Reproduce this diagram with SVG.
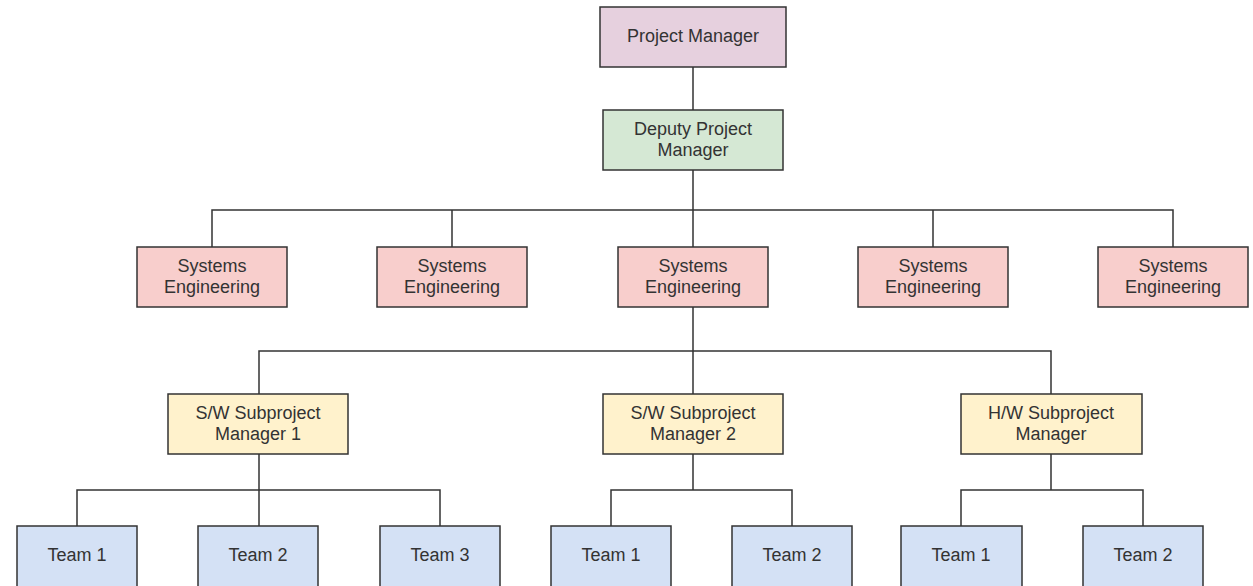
<svg xmlns="http://www.w3.org/2000/svg" width="1253" height="586" viewBox="0 0 1253 586">
<style>
.n{stroke:#333;stroke-width:1.5}
.pm{fill:#e6d0de}.dp{fill:#d5e8d4}.se{fill:#f8cecc}.sb{fill:#fff2cc}.tm{fill:#d4e1f5}
text{font-family:"Liberation Sans",Arial,sans-serif;font-size:18px;fill:#333;text-anchor:middle}
.c{fill:none;stroke:#333;stroke-width:1.5}
</style>
<rect width="1253" height="586" fill="#fff"/>
<g id="connectors" class="c">
<path d="M693 67V110M693 170V247M212 247V210H1173V247M452 210V247M933 210V247"/>
<path d="M693 307V394M259 394V351H1051V394"/>
<path d="M259 454V526M77 526V490H440V526"/>
<path d="M693 454V490M611 526V490H792V526"/>
<path d="M1051 454V490M961 526V490H1143V526"/>
</g>
<g id="pm"><rect class="n pm" x="600" y="7" width="186" height="60"/><text x="693" y="42">Project Manager</text></g>
<g id="dpm"><rect class="n dp" x="603" y="110" width="180" height="60"/><text x="693" y="135">Deputy Project</text><text x="693" y="156">Manager</text></g>
<g id="se1"><rect class="n se" x="137" y="247" width="150" height="60"/><text x="212" y="272">Systems</text><text x="212" y="293">Engineering</text></g>
<g id="se2"><rect class="n se" x="377" y="247" width="150" height="60"/><text x="452" y="272">Systems</text><text x="452" y="293">Engineering</text></g>
<g id="se3"><rect class="n se" x="618" y="247" width="150" height="60"/><text x="693" y="272">Systems</text><text x="693" y="293">Engineering</text></g>
<g id="se4"><rect class="n se" x="858" y="247" width="150" height="60"/><text x="933" y="272">Systems</text><text x="933" y="293">Engineering</text></g>
<g id="se5"><rect class="n se" x="1098" y="247" width="150" height="60"/><text x="1173" y="272">Systems</text><text x="1173" y="293">Engineering</text></g>
<g id="sw1"><rect class="n sb" x="168" y="394" width="180" height="60"/><text x="258" y="419">S/W Subproject</text><text x="258" y="440">Manager 1</text></g>
<g id="sw2"><rect class="n sb" x="603" y="394" width="180" height="60"/><text x="693" y="419">S/W Subproject</text><text x="693" y="440">Manager 2</text></g>
<g id="hw"><rect class="n sb" x="961" y="394" width="181" height="60"/><text x="1051" y="419">H/W Subproject</text><text x="1051" y="440">Manager</text></g>
<g id="t11"><rect class="n tm" x="17" y="526" width="120" height="62"/><text x="77" y="561">Team 1</text></g>
<g id="t12"><rect class="n tm" x="198" y="526" width="120" height="62"/><text x="258" y="561">Team 2</text></g>
<g id="t13"><rect class="n tm" x="380" y="526" width="120" height="62"/><text x="440" y="561">Team 3</text></g>
<g id="t21"><rect class="n tm" x="551" y="526" width="120" height="62"/><text x="611" y="561">Team 1</text></g>
<g id="t22"><rect class="n tm" x="732" y="526" width="120" height="62"/><text x="792" y="561">Team 2</text></g>
<g id="t31"><rect class="n tm" x="901" y="526" width="121" height="62"/><text x="961" y="561">Team 1</text></g>
<g id="t32"><rect class="n tm" x="1083" y="526" width="120" height="62"/><text x="1143" y="561">Team 2</text></g>
</svg>
